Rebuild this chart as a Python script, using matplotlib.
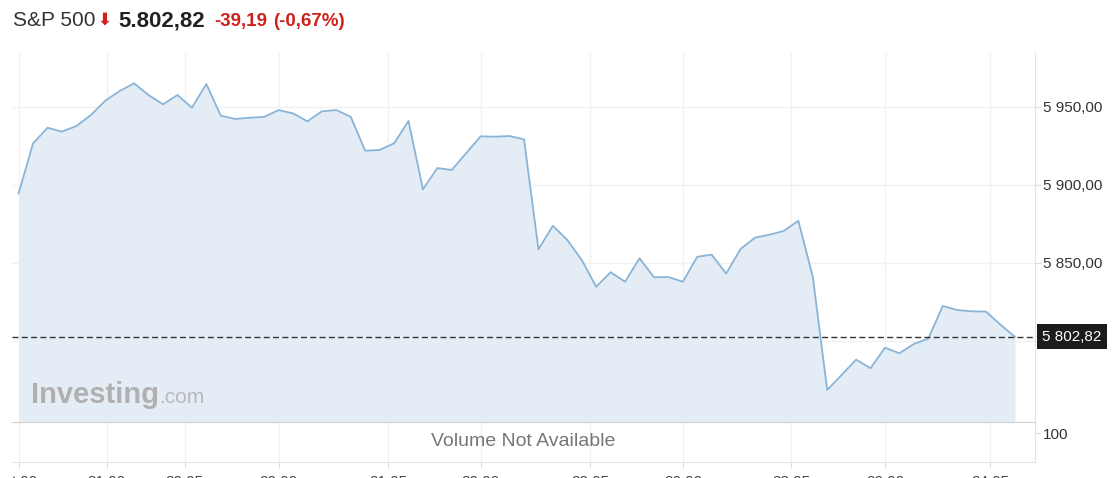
import matplotlib
matplotlib.use("Agg")
import matplotlib.pyplot as plt
from matplotlib.ticker import FuncFormatter
from matplotlib.patches import Rectangle

plt.rcParams['font.family'] = ['Liberation Sans', 'DejaVu Sans']

# S&P 500 closes, one point per bar
prices = [5894.6, 5926.5, 5936.5, 5934.0, 5937.6, 5944.6, 5953.8, 5960.0, 5964.9, 5957.4,
          5951.5, 5957.4, 5949.3, 5964.5, 5944.2, 5942.1, 5942.9, 5943.4, 5947.8, 5945.7,
          5940.6, 5947.0, 5947.8, 5943.5, 5921.8, 5922.3, 5926.5, 5940.8, 5897.1, 5910.7,
          5909.5, 5920.3, 5931.0, 5930.8, 5931.2, 5929.1, 5858.8, 5873.8, 5864.7, 5851.9,
          5834.8, 5844.1, 5838.0, 5853.0, 5840.9, 5841.0, 5838.0, 5854.0, 5855.3, 5843.2,
          5859.0, 5866.2, 5868.1, 5870.5, 5877.0, 5841.2, 5768.8, 5778.4, 5788.2, 5782.7,
          5795.8, 5792.3, 5798.2, 5801.6, 5822.5, 5819.9, 5819.1, 5818.9, 5810.5, 5802.82]
last_price = 5802.82
change = -39.19
change_pct = -0.67

tick_pos = [0, 6.1, 11.5, 18.0, 25.6, 32.0, 39.6, 46.0, 53.5, 60.0, 67.3]
tick_labels = ["18:00", "21:00", "20.05", "20:00", "21.05", "20:00",
               "22.05", "20:00", "23.05", "20:00", "24.05"]
price_ticks = [5800, 5850, 5900, 5950]

W, H = 1119, 478
fig = plt.figure(figsize=(W / 100, H / 100), dpi=100)

def px(l, t, r, b):
    return [l / W, 1 - b / H, (r - l) / W, (b - t) / H]

ax = fig.add_axes(px(12, 53, 1035, 422))
axv = fig.add_axes(px(12, 422, 1035, 462))

xs = list(range(len(prices)))
line_c = '#8ab4d7'
fill_c = '#e4edf5'
ymin, ymax = 5748.3, 5984.3
ax.fill_between(xs, prices, ymin, color=fill_c, lw=0, zorder=1)
ax.plot(xs, prices, color=line_c, lw=1.3, zorder=3)
ax.axhline(last_price, color='#333333', lw=1.0, ls=(0, (4.3, 2.4)), zorder=4)

ax.set_xlim(-0.46, 70.39)
ax.set_ylim(ymin, ymax)
ax.set_xticks(tick_pos)
ax.tick_params(axis='x', length=0, labelbottom=False)
ax.yaxis.tick_right()
ax.set_yticks(price_ticks)

def fmt(v, pos):
    if v == 5800:
        return ''
    s = f"{v:,.2f}"
    return s.replace(',', ' ').replace('.', ',')

ax.yaxis.set_major_formatter(FuncFormatter(fmt))
ax.tick_params(axis='y', length=4, color='#dddddd', pad=2, labelsize=11, labelcolor='#333333')
ax.grid(True, color='#f1f1f1', lw=1, zorder=0)
ax.set_axisbelow(True)
for s in ['left', 'top', 'bottom']:
    ax.spines[s].set_visible(False)
ax.spines['right'].set_color('#e4e4e4')

# current price label
ax.annotate("5 802,82", xy=(1, last_price), xycoords=('axes fraction', 'data'),
            xytext=(5, 0), textcoords='offset points', ha='left', va='center',
            fontsize=11, color='white',
            bbox=dict(boxstyle='square,pad=0.35', fc='#1c1c1c', ec='none'),
            annotation_clip=False)

# logo
fig.text(31 / W, 1 - 403 / H, "Investing", fontsize=21, fontweight='bold',
         color='#b0b0b0', va='baseline', ha='left')
fig.text(159 / W, 1 - 403 / H, ".com", fontsize=15, color='#b8b8b8',
         va='baseline', ha='left')

# volume panel
axv.set_xlim(-0.46, 70.39)
axv.set_ylim(0, 138)
axv.set_xticks(tick_pos)
axv.set_xticklabels(tick_labels)
axv.tick_params(axis='x', length=4, color='#dddddd', pad=5, labelsize=11, labelcolor='#444444')
axv.yaxis.tick_right()
axv.set_yticks([100])
axv.set_yticklabels(["100"])
axv.tick_params(axis='y', length=4, color='#dddddd', pad=2, labelsize=11, labelcolor='#333333')
axv.grid(True, axis='x', color='#f1f1f1', lw=1)
axv.set_axisbelow(True)
axv.spines['left'].set_visible(False)
axv.spines['top'].set_color('#cfcfcf')
axv.spines['bottom'].set_color('#e4e4e4')
axv.spines['right'].set_color('#e4e4e4')
axv.text(0.5, 0.5, "Volume Not Available", transform=axv.transAxes, ha='center',
         va='center', fontsize=14, color='#777777')

# clip first tick label at the left edge like the reference
fig.add_artist(Rectangle((0, 0), 12 / W, 15 / H, transform=fig.transFigure,
                         color='white', zorder=10))

# header
base = 1 - 26 / H
red = '#d0201a'
fig.text(13 / W, base, "S&P 500", fontsize=15, color='#333333', va='baseline')
fig.text(97 / W, base + 1 / H, "\u2b07", fontsize=12, color=red, va='baseline',
         family='DejaVu Sans', fontweight='bold')
fig.text(118 / W, base, "5.802,82", fontsize=16, fontweight='bold', color='#222222',
         va='baseline')
fig.text(214 / W, base, f"{change:.2f}".replace('.', ','), fontsize=13.5,
         fontweight='bold', color=red, va='baseline')
fig.text(273 / W, base, f"({change_pct:.2f}%)".replace('.', ','), fontsize=13.5,
         fontweight='bold', color=red, va='baseline')

fig.savefig("out.png", dpi=100, facecolor='white')
